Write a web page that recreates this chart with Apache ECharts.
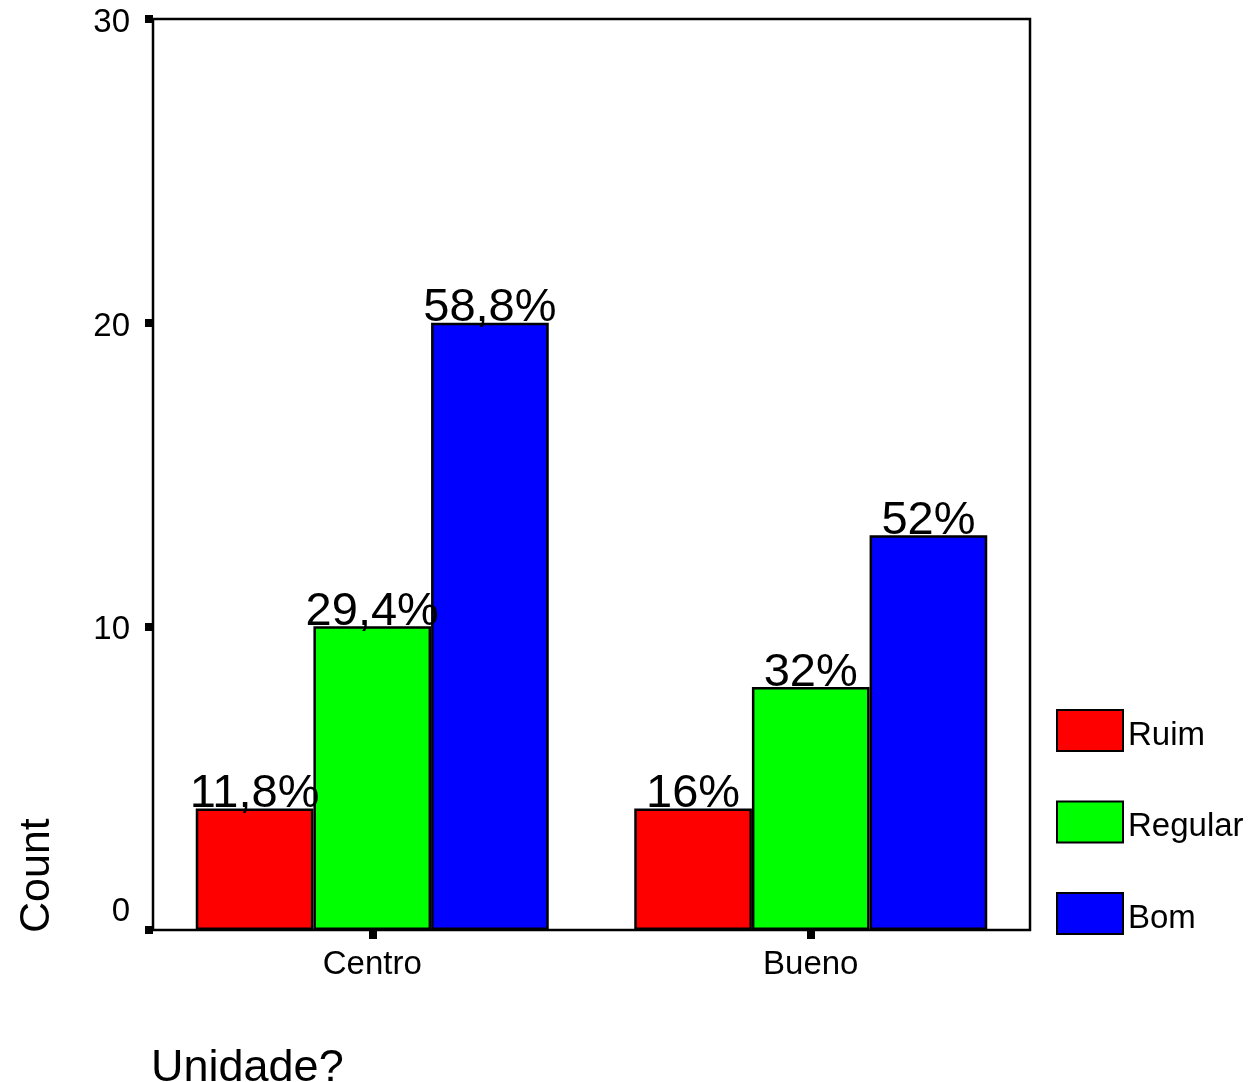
<!DOCTYPE html>
<html>
<head>
<meta charset="utf-8">
<script src="https://cdn.jsdelivr.net/npm/echarts@6/dist/echarts.min.js"></script>
<style>html,body{margin:0;padding:0;background:#fff}#c{width:1249px;height:1082px}</style>
</head>
<body>
<div id="c"></div>
<script>
const categories = ['Centro', 'Bueno'];
const seriesNames = ['Ruim', 'Regular', 'Bom'];
const ruim = [4, 4];
const regular = [10, 8];
const bom = [20, 13];
const ruimLabels = ['11,8%', '16%'];
const regularLabels = ['29,4%', '32%'];
const bomLabels = ['58,8%', '52%'];
const yTicks = [0, 10, 20, 30];
const xTitle = 'Unidade?';
const yTitle = 'Count';

const colors = ['#ff0000', '#00ff00', '#0000ff'];
const FONT = '"Liberation Sans", Arial, Helvetica, sans-serif';
const chart = echarts.init(document.getElementById('c'));

function mk(name, data, labels, color) {
  return {
    name: name, type: 'bar', data: data,
    barGap: '0%', barCategoryGap: '19.5%',
    itemStyle: { color: color, borderColor: '#000', borderWidth: 2.5 },
    label: {
      show: true, position: 'top', distance: -9,
      formatter: p => labels[p.dataIndex],
      fontFamily: FONT, fontSize: 47, color: '#000'
    },
    emphasis: { disabled: true }
  };
}

chart.setOption({
  animation: false,
  backgroundColor: '#fff',
  grid: { left: 153, right: 219, top: 19, bottom: 152, show: true, borderColor: '#000', borderWidth: 2.5, backgroundColor: 'transparent' },
  legend: {
    orient: 'vertical', left: 1056, top: 709, padding: 0,
    icon: 'rect',
    itemWidth: 66, itemHeight: 41, itemGap: 48.5,
    formatter: name => '{a|' + name + '}',
    textStyle: {
      fontFamily: FONT, fontSize: 33, color: '#000',
      rich: { a: { fontFamily: FONT, fontSize: 33, color: '#000', padding: [10, 0, 0, 0] } }
    },
    data: seriesNames,
    selectedMode: false
  },
  graphic: [
    { type: 'text', x: 37, y: 933, rotation: Math.PI / 2, silent: true,
      style: { text: yTitle, font: '43px ' + FONT, fill: '#000', textAlign: 'left', textVerticalAlign: 'middle' } },
    { type: 'text', x: 151, y: 1069, silent: true,
      style: { text: xTitle, font: '45px ' + FONT, fill: '#000', textAlign: 'left', textVerticalAlign: 'middle' } }
  ],
  xAxis: {
    type: 'category', data: categories,
    axisLine: { show: false },
    axisTick: { show: true, alignWithLabel: true, length: 9, lineStyle: { color: '#000', width: 8 } },
    axisLabel: { fontFamily: FONT, fontSize: 33, color: '#000', margin: 18 }
  },
  yAxis: {
    type: 'value', min: 0, max: 30, interval: 10,
    splitLine: { show: false },
    axisLine: { show: false },
    axisTick: { show: true, length: 8, lineStyle: { color: '#000', width: 8 } },
    axisLabel: {
      fontFamily: FONT, fontSize: 33, color: '#000', margin: 23,
      formatter: v => (v === yTicks[0] ? '{z|' + v + '}' : '{n|' + v + '}'),
      rich: {
        z: { fontFamily: FONT, fontSize: 33, color: '#000', padding: [0, 0, 36, 0] },
        n: { fontFamily: FONT, fontSize: 33, color: '#000', padding: [8, 0, 0, 0] }
      }
    }
  },
  series: [
    mk(seriesNames[0], ruim, ruimLabels, colors[0]),
    mk(seriesNames[1], regular, regularLabels, colors[1]),
    mk(seriesNames[2], bom, bomLabels, colors[2])
  ]
});
</script>
</body>
</html>
